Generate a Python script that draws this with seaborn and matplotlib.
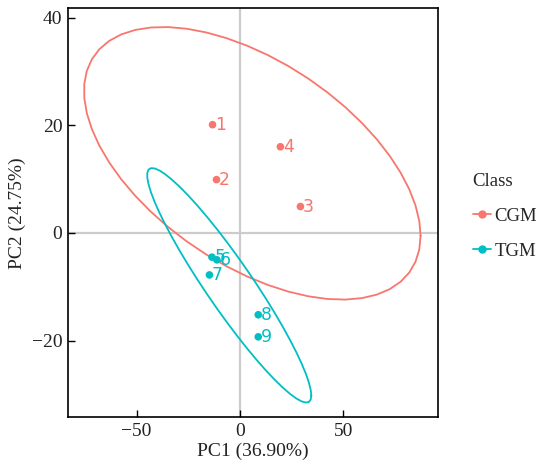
import numpy as np
import pandas as pd
import matplotlib
matplotlib.use("Agg")
import matplotlib.pyplot as plt
from matplotlib.lines import Line2D
import seaborn as sns

sample = ["1", "2", "3", "4", "5", "6", "7", "8", "9"]
pc1 = [-13.3, -11.4, 29.2, 19.5, -13.6, -11.2, -14.8, 8.8, 8.8]
pc2 = [20.1, 9.9, 4.9, 16.0, -4.5, -5.0, -7.8, -15.2, -19.3]
cls = ["CGM", "CGM", "CGM", "CGM", "TGM", "TGM", "TGM", "TGM", "TGM"]
palette = {"CGM": "#F8766D", "TGM": "#00BFC4"}

df = pd.DataFrame({"PC1": pc1, "PC2": pc2, "Class": cls, "Sample": sample})


def cov_trob(x, nu=5, maxit=25, tol=0.01):
    n, p = x.shape
    loc = x.mean(axis=0)
    w = np.ones(n)
    for _ in range(maxit):
        w0 = w
        X = x - loc
        _, d, vt = np.linalg.svd(np.sqrt(1.0 / n) * X, full_matrices=False)
        wX = X @ vt.T @ np.diag(1.0 / d)
        Q = (wX ** 2).sum(axis=1)
        w = (nu + p) / (nu + Q)
        loc = (w[:, None] * x).sum(axis=0) / w.sum()
        if np.all(np.abs(w - w0) < tol):
            break
    cov = (np.sqrt(w)[:, None] * X).T @ (np.sqrt(w)[:, None] * X) / n
    return loc, cov


def ellipse_pts(x, level=0.95, segments=51):
    n = x.shape[0]
    center, shape = cov_trob(x)
    chol = np.linalg.cholesky(shape).T
    dfd = n - 1
    fq = dfd / 2.0 * ((1 - level) ** (-2.0 / dfd) - 1)
    radius = np.sqrt(2 * fq)
    ang = np.linspace(0, 2 * np.pi, segments + 1)
    uc = np.column_stack([np.cos(ang), np.sin(ang)])
    return center + radius * (uc @ chol)


sns.set_style("white")
plt.rcParams["font.family"] = ["Liberation Serif", "DejaVu Serif"]

fig = plt.figure(figsize=(5.47, 4.66), dpi=100)
ax = fig.add_axes([0.1243, 0.105, 0.676, 0.877])

ax.axhline(0, color="#cccccc", lw=1.6, zorder=0)
ax.axvline(0, color="#cccccc", lw=1.6, zorder=0)

for c in ["CGM", "TGM"]:
    sub = df[df["Class"] == c]
    e = ellipse_pts(sub[["PC1", "PC2"]].to_numpy())
    ax.plot(e[:, 0], e[:, 1], color=palette[c], lw=1.3, zorder=1)

sns.scatterplot(data=df, x="PC1", y="PC2", hue="Class", palette=palette,
                s=30, edgecolor="none", ax=ax, legend=False, zorder=3)

for _, r in df.iterrows():
    ax.text(r["PC1"] + 1.2, r["PC2"], r["Sample"], color=palette[r["Class"]],
            fontsize=12.5, family="DejaVu Sans", va="center", ha="left", zorder=3)

ax.set_xlim(-83.2, 95.6)
ax.set_ylim(-34.2, 41.7)
ax.set_xticks([-50, 0, 50])
ax.set_yticks([-20, 0, 20, 40])
ax.set_xticklabels(["\u221250", "0", "50"])
ax.set_yticklabels(["\u221220", "0", "20", "40"])
ax.tick_params(direction="in", length=5, width=1, labelsize=14, color="black",
               labelcolor="#222222", left=True, bottom=True, pad=4)
for sp in ax.spines.values():
    sp.set_color("black")
    sp.set_linewidth(1.2)
ax.set_xlabel("PC1 (36.90%)", fontsize=14, color="#222222", labelpad=2)
ax.set_ylabel("PC2 (24.75%)", fontsize=14, color="#222222", labelpad=4)

handles = [Line2D([0], [0], color=palette[c], marker="o", markersize=5, lw=1.3)
           for c in ["CGM", "TGM"]]
leg = fig.legend(handles, ["CGM", "TGM"], title="Class", loc="upper left",
                 bbox_to_anchor=(0.84, 0.657), frameon=False, fontsize=13.5,
                 title_fontsize=13.5, handlelength=1.0, handletextpad=0.15,
                 labelspacing=0.95, alignment="left", borderpad=0.2)

fig.savefig("out.png", dpi=100)
